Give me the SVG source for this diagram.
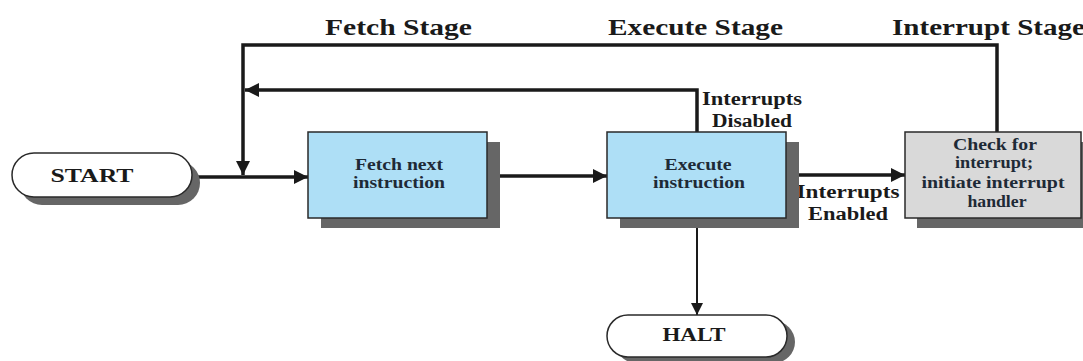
<svg xmlns="http://www.w3.org/2000/svg" width="1083" height="361" viewBox="0 0 1083 361">
<style>
.stage{font-family:"Liberation Serif","Times New Roman",serif;font-weight:bold;font-size:24px;fill:#1a1a1a}
.lbl{font-family:"Liberation Serif","Times New Roman",serif;font-weight:bold;font-size:18px;fill:#1a1a1a;text-anchor:middle}
.bt{font-family:"Liberation Serif","Times New Roman",serif;font-weight:bold;font-size:16px;fill:#1e2a36;text-anchor:middle}
.term{font-family:"Liberation Serif","Times New Roman",serif;font-weight:bold;font-size:19px;fill:#1a1a1a;text-anchor:middle}
.shadow{fill:#666666}
.blue{fill:#aedff6;stroke:#2a2a2a;stroke-width:1.5}
.gray{fill:#d9d9d9;stroke:#2a2a2a;stroke-width:1.5}
.pill{fill:#ffffff;stroke:#2a2a2a;stroke-width:1.5}
.ln{fill:none;stroke:#1a1a1a;stroke-width:3.5}
.thin{fill:none;stroke:#1a1a1a;stroke-width:2}
</style>
<defs>
<marker id="ah" viewBox="0 0 10 10" refX="10" refY="5" markerWidth="4.5" markerHeight="4" markerUnits="strokeWidth" orient="auto">
<path d="M0,0 L10,5 L0,10 z" fill="#1a1a1a"/>
</marker>
<marker id="ahs" viewBox="0 0 10 10" refX="10" refY="5" markerWidth="7" markerHeight="6" markerUnits="strokeWidth" orient="auto">
<path d="M0,0 L10,5 L0,10 z" fill="#1a1a1a"/>
</marker>
</defs>

<g id="stage-labels">
<text class="stage" x="325" y="35" textLength="147" lengthAdjust="spacingAndGlyphs">Fetch Stage</text>
<text class="stage" x="608" y="35" textLength="175" lengthAdjust="spacingAndGlyphs">Execute Stage</text>
<text class="stage" x="892" y="35" textLength="193" lengthAdjust="spacingAndGlyphs">Interrupt Stage</text>
</g>

<g id="connectors">
<path class="ln" d="M997,132 V45 H243 V175" marker-end="url(#ah)"/>
<path class="ln" d="M697,132 V90 H245" marker-end="url(#ah)"/>
<path class="ln" d="M192,177 H308" marker-end="url(#ah)"/>
<path class="ln" d="M487,176 H607" marker-end="url(#ah)"/>
<path class="ln" d="M786,175 H905" marker-end="url(#ah)"/>
<path class="thin" d="M697,228 V315" marker-end="url(#ahs)"/>
<text class="lbl" x="752" y="105" textLength="100" lengthAdjust="spacingAndGlyphs">Interrupts</text>
<text class="lbl" x="752" y="127" textLength="80" lengthAdjust="spacingAndGlyphs">Disabled</text>
<text class="lbl" x="848" y="198" textLength="103" lengthAdjust="spacingAndGlyphs">Interrupts</text>
<text class="lbl" x="848" y="220" textLength="80" lengthAdjust="spacingAndGlyphs">Enabled</text>
</g>

<g id="start">
<rect class="shadow" x="20" y="161" width="180" height="44" rx="22"/>
<rect class="pill" x="12" y="153" width="180" height="44" rx="22"/>
<text class="term" x="92" y="182" textLength="83" lengthAdjust="spacingAndGlyphs">START</text>
</g>

<g id="fetch">
<rect class="shadow" x="321" y="142" width="179" height="86"/>
<rect class="blue" x="308" y="132" width="179" height="86"/>
<text class="bt" x="399" y="170" textLength="88" lengthAdjust="spacingAndGlyphs">Fetch next</text>
<text class="bt" x="399" y="188" textLength="92" lengthAdjust="spacingAndGlyphs">instruction</text>
</g>

<g id="execute">
<rect class="shadow" x="620" y="142" width="179" height="86"/>
<rect class="blue" x="607" y="132" width="179" height="86"/>
<text class="bt" x="698" y="170" textLength="67" lengthAdjust="spacingAndGlyphs">Execute</text>
<text class="bt" x="699" y="188" textLength="92" lengthAdjust="spacingAndGlyphs">instruction</text>
</g>

<g id="check">
<rect class="shadow" x="917" y="142" width="180" height="86"/>
<rect class="gray" x="905" y="132" width="176" height="86"/>
<text class="bt" x="995" y="150" textLength="84" lengthAdjust="spacingAndGlyphs">Check for</text>
<text class="bt" x="994" y="168" textLength="78" lengthAdjust="spacingAndGlyphs">interrupt;</text>
<text class="bt" x="993" y="188" textLength="143" lengthAdjust="spacingAndGlyphs">initiate interrupt</text>
<text class="bt" x="997" y="207" textLength="59" lengthAdjust="spacingAndGlyphs">handler</text>
</g>

<g id="halt">
<rect class="shadow" x="615" y="321" width="180" height="42" rx="21"/>
<rect class="pill" x="607" y="315" width="180" height="42" rx="21"/>
<text class="term" x="694" y="341" textLength="63" lengthAdjust="spacingAndGlyphs">HALT</text>
</g>
</svg>
